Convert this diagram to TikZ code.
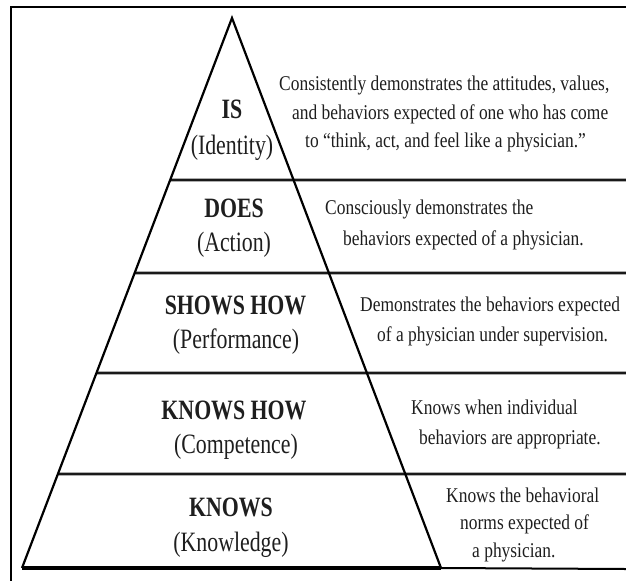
\documentclass[tikz,border=0pt]{standalone}
\usepackage{fontspec}
\setmainfont{Liberation Serif}
\newfontfamily\labfont[FakeStretch=0.78]{Liberation Serif}
\newfontfamily\descfont[FakeStretch=0.83]{Liberation Serif}
\usetikzlibrary{calc}
\definecolor{ink}{HTML}{1E1E1E}
\begin{document}
\begin{tikzpicture}[x=1pt,y=-1pt,
  frameline/.style={line width=1.6pt,draw=black},
  sideline/.style={line width=2.2pt,draw=black},
  divider/.style={line width=2.8pt,draw=black!90},
  levelname/.style={font=\labfont\fontsize{28}{30}\selectfont\bfseries,text=ink,inner sep=0pt},
  levelsub/.style={font=\labfont\fontsize{28}{30}\selectfont,text=ink,inner sep=0pt},
  desc/.style={font=\descfont\fontsize{21}{23}\selectfont,text=ink,inner sep=0pt,anchor=west}]
\useasboundingbox (0,0) rectangle (626,581);

% outer frame (top and left edges)
\coordinate (ftl) at (11,7);
\coordinate (ftr) at (626,7);
\coordinate (fbl) at (11,581);
\draw[frameline] (ftr) -- (ftl) -- (fbl);

% pyramid corners
\coordinate (apex) at (232,18);
\coordinate (bl) at (22,568);
\coordinate (br) at (441,568);
\coordinate (bend) at (626,569);

% divider end points on the left side and at the right border
\coordinate (d1l) at ($(apex)!0.2945!(bl)$);
\coordinate (d2l) at ($(apex)!0.4636!(bl)$);
\coordinate (d3l) at ($(apex)!0.6455!(bl)$);
\coordinate (d4l) at ($(apex)!0.8291!(bl)$);
\coordinate (d1r) at (626,180);
\coordinate (d2r) at (626,273);
\coordinate (d3r) at (626,373);
\coordinate (d4r) at (626,474);

\draw[divider] (d1l) -- (d1r);
\draw[divider] (d2l) -- (d2r);
\draw[divider] (d3l) -- (d3r);
\draw[divider] (d4l) -- (d4r);

% pyramid outline and the base rule
\draw[sideline,line join=miter] (bl) -- (apex) -- (br);
\draw[line width=3.4pt] (bl) -- (br);
\draw[line width=2pt] (br) -- (bend);

% level names
\node[levelname] (is) at (232,109) {IS};
\node[levelsub] (isSub) at (232,148) {(Identity)};
\node[levelname] (does) at (234,208) {DOES};
\node[levelsub] (doesSub) at (234,245) {(Action)};
\node[levelname] (shows) at (235.5,305) {SHOWS HOW};
\node[levelsub] (showsSub) at (236,342) {(Performance)};
\node[levelname] (knowshow) at (234,410) {KNOWS HOW};
\node[levelsub] (knowshowSub) at (236,447) {(Competence)};
\node[levelname] (knows) at (231,507) {KNOWS};
\node[levelsub] (knowsSub) at (231,545) {(Knowledge)};

% descriptions
\node[desc] (isA) at (279,85) {Consistently demonstrates the attitudes, values,};
\node[desc] (isB) at (292,114) {and behaviors expected of one who has come};
\node[desc] (isC) at (305,142) {to “think, act, and feel like a physician.”};
\node[desc] (doesA) at (325,209) {Consciously demonstrates the};
\node[desc] (doesB) at (343,240) {behaviors expected of a physician.};
\node[desc] (showsA) at (360,306) {Demonstrates the behaviors expected};
\node[desc] (showsB) at (377,336) {of a physician under supervision.};
\node[desc] (khA) at (411,407) {Knows when individual};
\node[desc] (khB) at (419,439) {behaviors are appropriate.};
\node[desc] (kA) at (446,495) {Knows the behavioral};
\node[desc] (kB) at (460,524) {norms expected of};
\node[desc] (kC) at (472,552) {a physician.};
\end{tikzpicture}
\end{document}
